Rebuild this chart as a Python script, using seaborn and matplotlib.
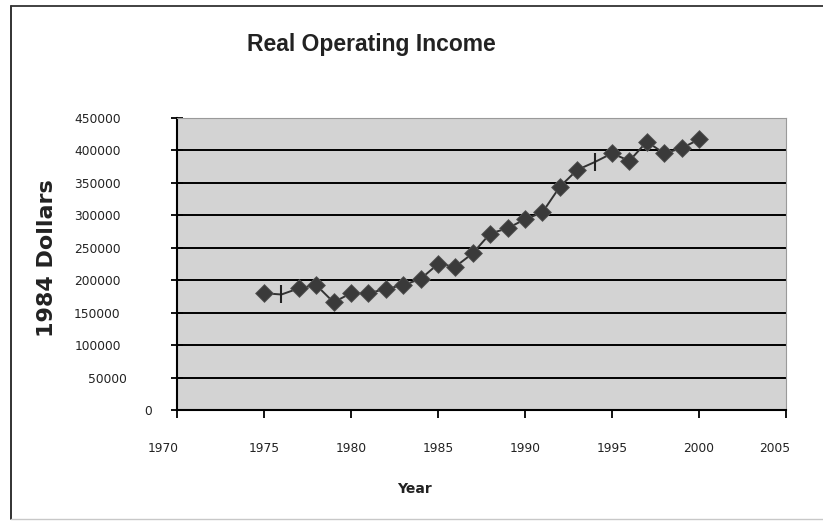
import matplotlib
matplotlib.use("Agg")
import matplotlib.pyplot as plt
from matplotlib.lines import Line2D
from matplotlib.ticker import FuncFormatter
from matplotlib.transforms import ScaledTranslation
import numpy as np
import pandas as pd
import seaborn as sns

# Real operating income, in 1984 dollars
years = [1975, 1976, 1977, 1978, 1979, 1980, 1981, 1982, 1983, 1984,
         1985, 1986, 1987, 1988, 1989, 1990, 1991, 1992, 1993, 1994,
         1995, 1996, 1997, 1998, 1999, 2000]
income = [180000, 178000, 187500, 192500, 166000, 180000, 180000, 186500,
          192500, 202000, 225000, 221000, 241500, 272000, 280000, 294000,
          304500, 344000, 370000, 382000, 395500, 384000, 413500, 395500,
          403500, 417000]
# years whose point shows as a bar instead of a diamond
bar_years = [1976, 1994]

x_ticks = [1970, 1975, 1980, 1985, 1990, 1995, 2000, 2005]
y_ticks = list(range(0, 450001, 50000))

title = "Real Operating Income"
x_label = "Year"
y_label = "1984 Dollars"

df = pd.DataFrame({"year": years, "income": income})
df["shape"] = np.where(df["year"].isin(bar_years), "bar", "diamond")

sns.set_theme(style="white")
plt.rcParams["font.family"] = ["DejaVu Sans"]

W, H = 823, 521
fig = plt.figure(figsize=(W / 100, H / 100), dpi=100)
fig.patch.set_facecolor("white")
ax = fig.add_axes([177 / W, 1 - 410 / H, (786 - 177) / W, (410 - 118) / H])
ax.set_facecolor("#d3d3d3")

ax.set_xlim(1970, 2005)
ax.set_ylim(0, 450000)
ax.set_xticks(x_ticks)
ax.set_yticks(y_ticks)
ax.yaxis.set_major_formatter(FuncFormatter(lambda v, p: f"{int(v)}"))

# horizontal gridlines
ax.grid(axis="y", color="black", linewidth=1.4)
ax.grid(axis="x", visible=False)
ax.set_axisbelow(True)

sns.lineplot(data=df, x="year", y="income", color="#333333", linewidth=1.4,
             ax=ax, zorder=3)
sns.scatterplot(data=df[df["shape"] == "diamond"], x="year", y="income",
                marker="D", s=82, color="#3a3a3a", edgecolor="#555555",
                linewidth=0.6, ax=ax, zorder=4)
sns.scatterplot(data=df[df["shape"] == "bar"], x="year", y="income",
                marker="|", s=170, color="#222222", linewidth=1.5,
                ax=ax, zorder=4)

for side in ["top", "right"]:
    ax.spines[side].set_color("#9a9a9a")
    ax.spines[side].set_linewidth(0.8)
for side in ["left", "bottom"]:
    ax.spines[side].set_color("black")
    ax.spines[side].set_linewidth(1.5)

ax.tick_params(axis="y", direction="inout", length=9, width=1.3,
               color="black", labelsize=8.8, pad=36, labelcolor="#222222")
ax.tick_params(axis="x", direction="out", length=6, width=1.3,
               color="black", labelsize=8.8, pad=17, labelcolor="#222222")
ax.tick_params(left=True, bottom=True)

ax.set_xlabel(x_label, fontsize=10, fontweight="bold", color="#222222")
ax.xaxis.set_label_coords((414 - 177) / (786 - 177), -(489 - 410) / (410 - 118))
ax.xaxis.label.set_va("center")
ax.set_ylabel(y_label, fontsize=16, fontweight="heavy", color="#222222")
ax.yaxis.set_label_coords(-(177 - 47) / (786 - 177), (410 - 258) / (410 - 118))
ax.yaxis.label.set_va("center")

# nudge a few tick labels sideways (pixels)
fig.canvas.draw()
def nudge(tick, dx):
    lab = tick.label1
    lab.set_transform(lab.get_transform()
                      + ScaledTranslation(dx / 100, 0, fig.dpi_scale_trans))

yt = ax.yaxis.get_major_ticks()
nudge(yt[0], 31)
nudge(yt[1], 6)
xt = ax.xaxis.get_major_ticks()
nudge(xt[0], -14)
nudge(xt[-1], -11)

fig.text(371 / W, 1 - 45 / H, title, ha="center", va="center",
         fontsize=16.5, fontweight="bold", family="Liberation Sans",
         color="#222222")

# chart border
fig.add_artist(Line2D([11 / W, 11 / W], [1 - 6 / H, 1 - 519 / H],
                      transform=fig.transFigure, color="#222222", lw=1.3))
fig.add_artist(Line2D([11 / W, 1.0], [1 - 6 / H, 1 - 6 / H],
                      transform=fig.transFigure, color="#333333", lw=1.3))
fig.add_artist(Line2D([11 / W, 1.0], [1 - 519 / H, 1 - 519 / H],
                      transform=fig.transFigure, color="#c8c8c8", lw=1.0))

fig.savefig("out.png", dpi=100, facecolor="white")
